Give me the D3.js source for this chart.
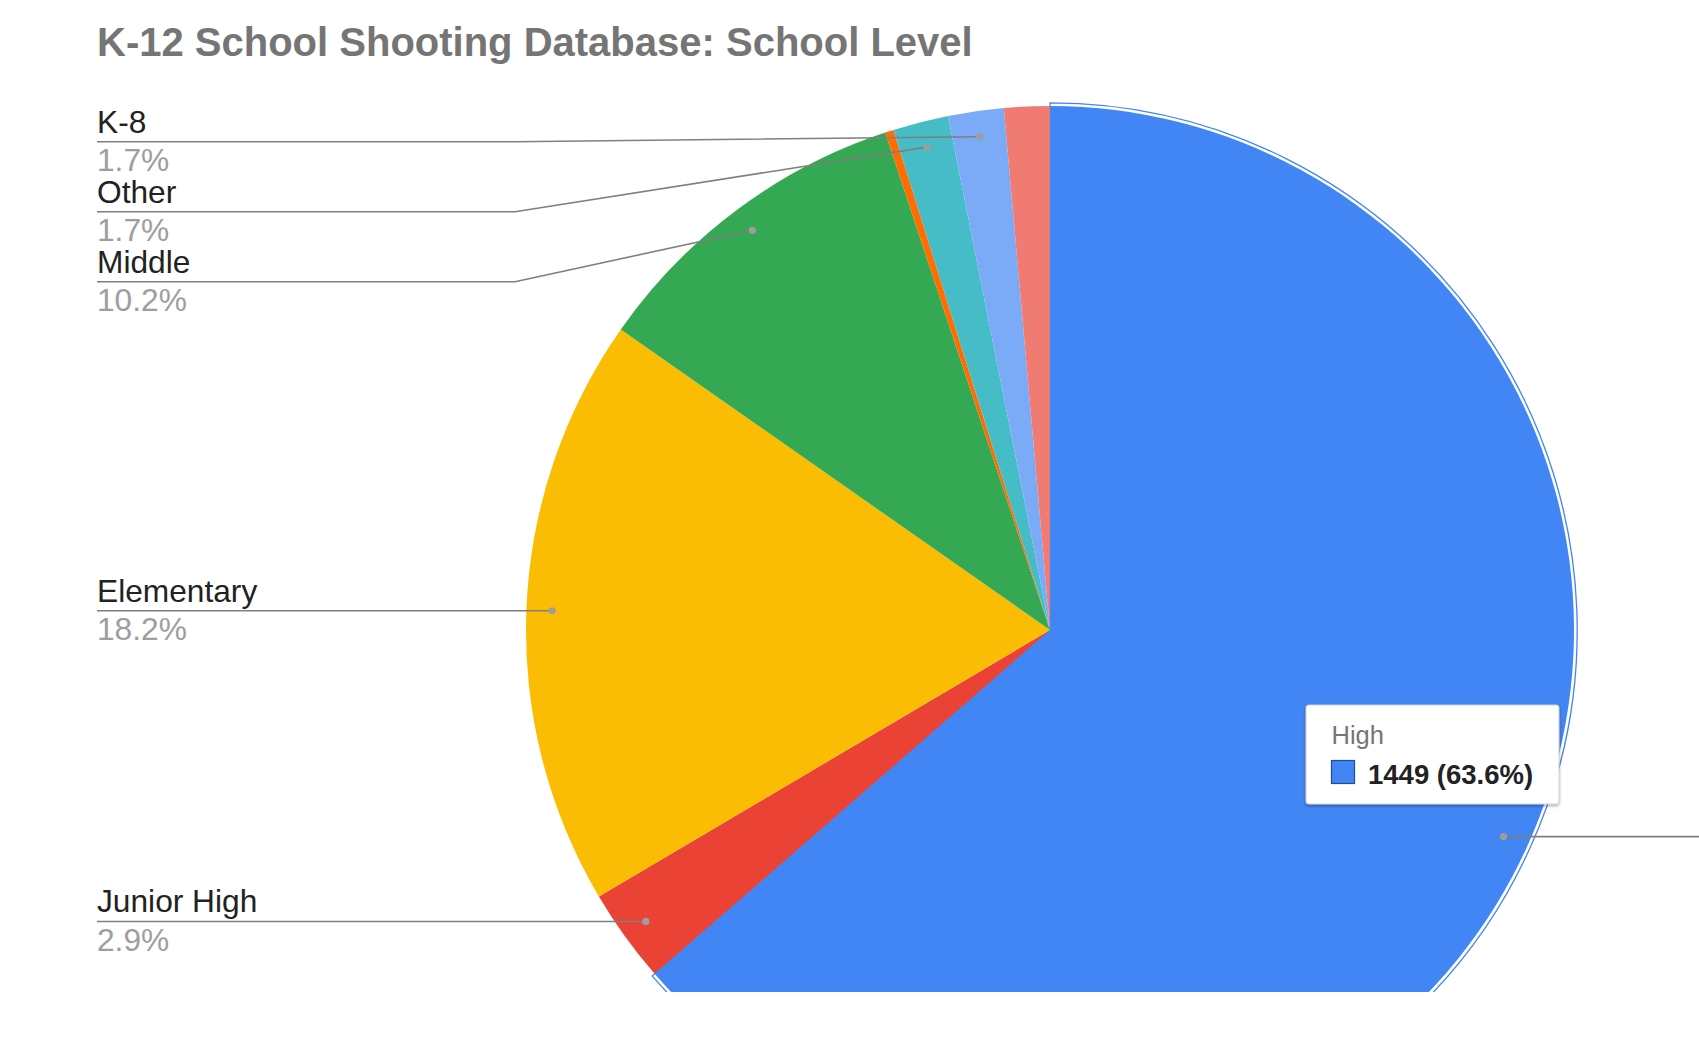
<!DOCTYPE html>
<html>
<head>
<meta charset="utf-8">
<script src="https://cdn.jsdelivr.net/npm/d3@7"></script>
<style>
  html, body { margin: 0; padding: 0; background: #fff; }
  svg { display: block; font-family: "Liberation Sans", Arial, sans-serif; }
</style>
</head>
<body>
<svg id="chart" width="1699" height="1052"></svg>
<script>
// ---- data ----
const categories = ["High", "Junior High", "Elementary", "Middle", "6-12", "Other", "K-8", "K-12"];
const counts     = [1449, 66, 415, 232, 6, 39, 39, 32];
const colors     = ["#4285f4", "#ea4335", "#fbbc04", "#34a853", "#ff6d01", "#46bdc6", "#7baaf7", "#f07b72"];
const labeled    = ["High", "Junior High", "Elementary", "Middle", "Other", "K-8"];
const titleText  = "K-12 School Shooting Database: School Level";
const highlighted = "High";

// ---- layout ----
const W = 1699, H = 1052;
const cx = 1050, cy = 630, R = 524;
const clipBottom = 992;
const labelX = 97, elbowX = 515, labelGap = 70, minLabelY = 141.7;
const fontSize = 31.7;

const svg = d3.select("#chart");
const defs = svg.append("defs");
defs.append("clipPath").attr("id", "area")
  .append("rect").attr("x", 0).attr("y", 0).attr("width", W).attr("height", clipBottom);
const shadow = defs.append("filter").attr("id", "shadow")
  .attr("x", "-20%").attr("y", "-20%").attr("width", "140%").attr("height", "150%");
shadow.append("feDropShadow").attr("dx", 0).attr("dy", 1.5).attr("stdDeviation", 1.8)
  .attr("flood-color", "#000").attr("flood-opacity", 0.35);

// title
svg.append("text")
  .attr("x", 97).attr("y", 56)
  .attr("font-size", 40).attr("font-weight", "bold").attr("fill", "#757575")
  .text(titleText);

const data = categories.map((c, i) => ({ name: c, value: counts[i], color: colors[i] }));
const total = d3.sum(counts);
const pie = d3.pie().sort(null).value(d => d.value).startAngle(0).endAngle(2 * Math.PI);
const arcs = pie(data);
const arc = d3.arc().innerRadius(0).outerRadius(R);
const ringArc = d3.arc().innerRadius(0).outerRadius(R + 3.2);
const dotArc = d3.arc().innerRadius(R * 0.951).outerRadius(R * 0.951);

const pieG = svg.append("g").attr("clip-path", "url(#area)")
  .append("g").attr("transform", `translate(${cx},${cy})`);

// hover ring for the highlighted slice
arcs.filter(a => a.data.name === highlighted).forEach(a => {
  pieG.append("path").attr("d", ringArc(a))
    .attr("fill", "#fff").attr("stroke", colors[categories.indexOf(highlighted)])
    .attr("stroke-width", 1.3);
});

pieG.selectAll("path.slice").data(arcs).enter().append("path")
  .attr("class", "slice")
  .attr("d", arc)
  .attr("fill", d => d.data.color);

// labels
const fmt = v => (v / total * 100).toFixed(1) + "%";
const labelItems = arcs.filter(a => labeled.includes(a.data.name)).map(a => {
  const c = dotArc.centroid(a);
  const mid = (a.startAngle + a.endAngle) / 2;
  return { a, x: cx + c[0], y: cy + c[1], side: Math.sin(mid) < 0 ? "left" : "right" };
});

const left = labelItems.filter(d => d.side === "left").sort((p, q) => p.y - q.y);
let prev = -Infinity;
left.forEach(d => {
  d.ly = Math.max(d.y, prev + labelGap, minLabelY);
  prev = d.ly;
});
const right = labelItems.filter(d => d.side === "right").sort((p, q) => p.y - q.y);
prev = -Infinity;
right.forEach(d => { d.ly = Math.max(d.y, prev + labelGap, minLabelY); prev = d.ly; });

const lblG = svg.append("g");
left.forEach(d => {
  const pts = d.ly === d.y
    ? [[labelX, d.ly], [d.x, d.y]]
    : [[labelX, d.ly], [elbowX, d.ly], [d.x, d.y]];
  lblG.append("path").attr("d", d3.line()(pts))
    .attr("fill", "none").attr("stroke", "#7f7f7f").attr("stroke-width", 1.6);
  lblG.append("circle").attr("cx", d.x).attr("cy", d.y).attr("r", 3.6).attr("fill", "#9e9e9e");
  lblG.append("text").attr("x", labelX).attr("y", d.ly - 9)
    .attr("font-size", fontSize).attr("fill", "#222").text(d.a.data.name);
  lblG.append("text").attr("x", labelX).attr("y", d.ly + 29.5)
    .attr("font-size", fontSize).attr("fill", "#9e9e9e").text(fmt(d.a.data.value));
});
// right-hand labels run off the visible canvas in the reference: only the leader shows
right.forEach(d => {
  lblG.append("path").attr("d", d3.line()([[d.x, d.y], [W + 5, d.ly]]))
    .attr("fill", "none").attr("stroke", "#7f7f7f").attr("stroke-width", 1.6);
  lblG.append("circle").attr("cx", d.x).attr("cy", d.y).attr("r", 3.6).attr("fill", "#9e9e9e");
});

// tooltip for the highlighted slice
const hi = data.find(d => d.name === highlighted);
const tip = svg.append("g").attr("transform", "translate(1306,705)");
tip.append("rect").attr("width", 253).attr("height", 99).attr("rx", 2.5)
  .attr("fill", "#fff").attr("stroke", "#cfcfcf").attr("stroke-width", 1)
  .attr("filter", "url(#shadow)");
tip.append("text").attr("x", 25.5).attr("y", 39).attr("font-size", 25.5)
  .attr("fill", "#757575").text(hi.name);
tip.append("rect").attr("x", 25.5).attr("y", 55.5).attr("width", 23).attr("height", 23)
  .attr("fill", hi.color).attr("stroke", "#1f4e99").attr("stroke-width", 1.2);
tip.append("text").attr("x", 62).attr("y", 79).attr("font-size", 27.5).attr("font-weight", "bold")
  .attr("fill", "#222").text(`${hi.value} (${fmt(hi.value)})`);
</script>
</body>
</html>
